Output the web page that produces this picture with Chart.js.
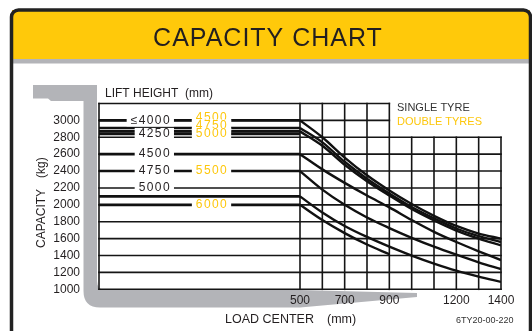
<!DOCTYPE html>
<html><head><meta charset="utf-8">
<script src="https://cdn.jsdelivr.net/npm/chart.js@4/dist/chart.umd.min.js"></script>
<style>html,body{margin:0;padding:0;background:#fff;}#wrap{width:532px;height:331px;}</style>
</head><body><div id="wrap"><canvas id="c" width="532" height="331"></canvas></div>
<script>
// ---------- data ----------
const loadCenters = [500, 600, 700, 800, 900, 1000, 1100, 1200, 1300, 1400];
const xTickLabels = [500, 700, 900, 1200, 1400];
const yTickLabels = [1000, 1200, 1400, 1600, 1800, 2000, 2200, 2400, 2600, 2800, 3000];
const gridLoadCenters = [500, 600, 700, 800, 900, 1000, 1100, 1200, 1300, 1400];
const gridCapacities = [1000, 1200, 1400, 1600, 1800, 2000, 2200, 2400, 2600, 2800, 3000, 3200];

// capacity curves (kg) vs load center (null = curve not drawn there)
const cap3000 = [3000, 2800, 2560, 2350, 2170, 2010, 1870, 1750, 1660, 1600];
const cap2910 = [2910, 2740, 2510, 2310, 2135, 1975, 1840, 1720, 1630, 1560];
const cap2870 = [2870, 2700, 2475, 2280, 2110, 1950, 1815, 1695, 1600, 1520];
const cap2600 = [2600, 2420, 2260, 2110, 1970, 1820, 1680, 1560, 1450, 1345];
const cap2400 = [2400, 2180, 2000, 1850, 1725, 1610, 1505, 1410, 1320, 1240];
const cap2100 = [2100, 1910, 1750, 1620, 1505, 1400, 1305, 1220, 1150, 1087];
const cap2000 = [2000, 1820, 1665, 1530, 1415, null, null, null, null, null];

// rated capacity lines in the lift-height panel (kg)
const liftLineCaps = [3000, 2910, 2870, 2840, 2600, 2400, 2100, 2000];

// lift height labels (mm) and the capacity row they sit on
const singleTyreLabels = ['\u22644000', '4250', '4500', '4750', '5000'];
const singleTyreCaps = [3000, 2840, 2600, 2400, 2200];
const doubleTyreLabels = ['4500', '4750', '5000', '5500', '6000'];
const doubleTyreCaps = [3000, 2910, 2840, 2400, 2000];

// ---------- styling ----------
const FONT = '"Liberation Sans", Arial, Helvetica, sans-serif';
const DARK = '#231f20';
const YELLOW = '#fdc70c';
const GREY = '#b3b4b8';

const curveSets = [cap3000, cap2910, cap2870, cap2600, cap2400, cap2100, cap2000];
const datasets = [];
curveSets.forEach(arr => {
  datasets.push({
    data: loadCenters.map((c, i) => ({x: c, y: arr[i]})).filter(p => p.y !== null),
    borderColor: '#111', borderWidth: 2.4, pointRadius: 0,
    cubicInterpolationMode: 'monotone', fill: false
  });
});
liftLineCaps.forEach(v => {
  datasets.push({
    data: [{x: -400, y: v}, {x: 500, y: v}],
    borderColor: '#111', borderWidth: 2.6, pointRadius: 0, fill: false
  });
});

const framePlugin = {
  id: 'frame',
  beforeDraw(chart) {
    const ctx = chart.ctx;
    ctx.save();
    ctx.fillStyle = '#fff';
    ctx.fillRect(0, 0, 532, 331);
    // header
    ctx.fillStyle = '#ffc90a';
    ctx.fillRect(12, 10, 518, 50);
    ctx.fillStyle = GREY;
    ctx.fillRect(12, 59, 518, 4.5);
    // outer border
    ctx.strokeStyle = '#222';
    ctx.lineWidth = 3.5;
    ctx.beginPath();
    ctx.roundRect(11.5, 10, 519, 360, 7);
    ctx.stroke();
    // title
    ctx.fillStyle = DARK;
    ctx.font = '25px ' + FONT;
    ctx.textAlign = 'center';
    ctx.textBaseline = 'middle';
    ctx.letterSpacing = '1px';
    ctx.fillText('CAPACITY CHART', 268, 39);
    ctx.letterSpacing = '0px';
    // grey fork frame
    ctx.fillStyle = GREY;
    ctx.beginPath();
    ctx.moveTo(33, 85);
    ctx.lineTo(97, 85);
    ctx.lineTo(97, 281);
    ctx.quadraticCurveTo(97, 290, 106, 290);
    ctx.lineTo(300, 290);
    ctx.lineTo(417, 293);
    ctx.lineTo(417, 297);
    ctx.lineTo(300, 307.5);
    ctx.lineTo(100, 307.5);
    ctx.quadraticCurveTo(83.5, 307.5, 83.5, 291);
    ctx.lineTo(83.5, 101);
    ctx.lineTo(51, 101);
    ctx.lineTo(48, 98.5);
    ctx.lineTo(33, 98.5);
    ctx.closePath();
    ctx.fill();
    ctx.restore();
  },
  beforeDatasetsDraw(chart) {
    const ctx = chart.ctx;
    const xs = chart.scales.x, ys = chart.scales.y;
    ctx.save();
    ctx.strokeStyle = '#151515';
    ctx.lineWidth = 1.6;
    ctx.lineCap = 'square';
    const line = (x1, y1, x2, y2) => {
      ctx.beginPath();
      ctx.moveTo(xs.getPixelForValue(x1), ys.getPixelForValue(y1));
      ctx.lineTo(xs.getPixelForValue(x2), ys.getPixelForValue(y2));
      ctx.stroke();
    };
    gridCapacities.forEach(v => {
      const right = v > 2800 ? 900 : 1400;
      line(-400, v, right, v);
    });
    gridLoadCenters.forEach(c => {
      const top = c > 900 ? 2800 : 3200;
      line(c, 1000, c, top);
    });
    line(-400, 1000, -400, 3200);
    ctx.restore();
  },
  afterDatasetsDraw(chart) {
    const ctx = chart.ctx;
    const xs = chart.scales.x, ys = chart.scales.y;
    ctx.save();
    ctx.font = '12px ' + FONT;
    ctx.letterSpacing = '1.4px';
    ctx.textAlign = 'center';
    ctx.textBaseline = 'middle';
    const drawLabel = (txt, xv, yv, dy, color) => {
      const px = xs.getPixelForValue(xv), py = ys.getPixelForValue(yv) + dy;
      const w = ctx.measureText(txt).width;
      ctx.fillStyle = '#fff';
      ctx.fillRect(px - w / 2 - 4, py - 6, w + 7, 12);
      ctx.fillStyle = color;
      ctx.fillText(txt, px, py);
    };
    singleTyreLabels.forEach((t, i) => drawLabel(t, i === 0 ? -168 : -150, singleTyreCaps[i], 0, DARK));
    const dyD = [-3, -2.5, 0, 0, 0];
    doubleTyreLabels.forEach((t, i) => drawLabel(t, 106, doubleTyreCaps[i], dyD[i], YELLOW));
    ctx.letterSpacing = '0px';
    // panel texts
    ctx.textAlign = 'left';
    ctx.fillStyle = DARK;
    ctx.font = '12px ' + FONT;
    ctx.fillText('LIFT HEIGHT', 105, 94);
    ctx.fillText('(mm)', 185, 94);
    ctx.font = '11px ' + FONT;
    ctx.fillStyle = '#333';
    ctx.fillText('SINGLE TYRE', 397, 108);
    ctx.fillStyle = YELLOW;
    ctx.fillText('DOUBLE TYRES', 397, 122);
    ctx.fillStyle = DARK;
    ctx.font = '12.5px ' + FONT;
    ctx.fillText('LOAD CENTER', 225, 320);
    ctx.fillText('(mm)', 327, 320);
    ctx.font = '9px ' + FONT;
    ctx.fillStyle = '#333';
    ctx.fillText('6TY20-00-220', 456, 321);
    // vertical axis title
    ctx.save();
    ctx.translate(42, 248);
    ctx.rotate(-Math.PI / 2);
    ctx.font = '12px ' + FONT;
    ctx.fillStyle = DARK;
    ctx.fillText('CAPACITY', 0, 0);
    ctx.fillText('(kg)', 70, 0);
    ctx.restore();
    ctx.restore();
  }
};

new Chart(document.getElementById('c'), {
  type: 'line',
  data: {datasets},
  plugins: [framePlugin],
  options: {
    responsive: false,
    animation: false,
    events: [],
    layout: {padding: {left: 40, right: 31, top: 103.5, bottom: 21.7}},
    plugins: {legend: {display: false}, tooltip: {enabled: false}, title: {display: false}},
    scales: {
      x: {
        type: 'linear', min: -400, max: 1400,
        grid: {display: false, drawTicks: false}, border: {display: false},
        afterBuildTicks: s => { s.ticks = xTickLabels.map(v => ({value: v})); },
        afterFit: s => { s.height = 20; },
        ticks: {padding: 4, maxRotation: 0, autoSkip: false, color: DARK, font: {size: 12, family: FONT},
          callback: v => String(v)}
      },
      y: {
        type: 'linear', min: 1000, max: 3200,
        grid: {display: false, drawTicks: false}, border: {display: false},
        afterBuildTicks: s => { s.ticks = yTickLabels.map(v => ({value: v})); },
        afterFit: s => { s.width = 59; },
        ticks: {padding: 19, autoSkip: false, color: DARK, font: {size: 12, family: FONT},
          callback: v => String(v)}
      }
    }
  }
});
</script></body></html>
